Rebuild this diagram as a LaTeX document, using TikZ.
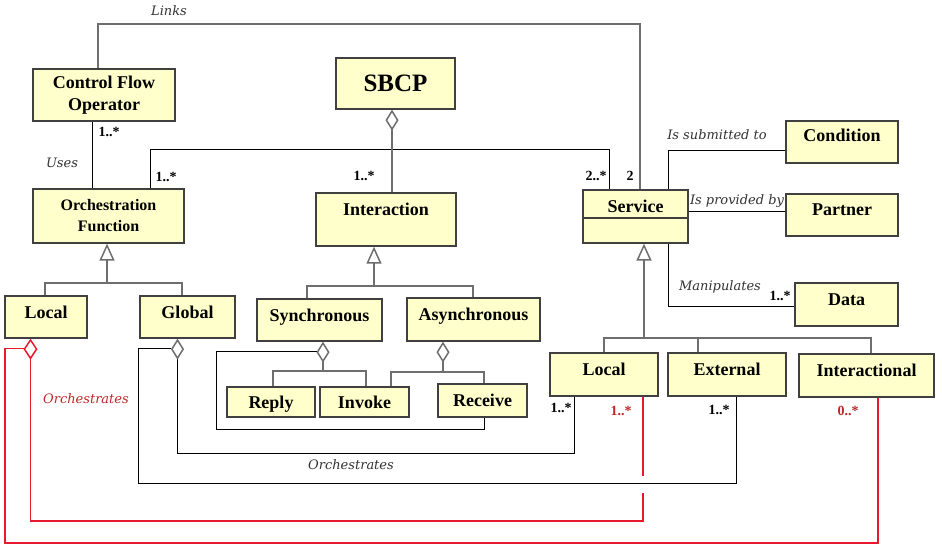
\documentclass[tikz,border=0pt]{standalone}
\usepackage{fontspec}
\setmainfont{Liberation Serif}
\newfontfamily\lblfont{DejaVu Serif}
\usetikzlibrary{arrows.meta}
\definecolor{boxfill}{RGB}{255,255,204}
\definecolor{boxdraw}{RGB}{64,64,64}
\definecolor{lgray}{RGB}{110,110,110}
\definecolor{ored}{RGB}{230,25,45}
\definecolor{tred}{RGB}{190,40,40}
\definecolor{ltext}{RGB}{50,50,50}
\begin{document}
\begin{tikzpicture}[x=1pt,y=-1pt,
  cls/.style={draw=boxdraw, fill=boxfill, line width=1.3pt, inner sep=0pt, align=center,
    font=\bfseries\fontsize{18}{22}\selectfont},
  one/.style={text height=12pt, text depth=#1},
  gl/.style={draw=lgray, line width=1.5pt},
  bl/.style={draw=black, line width=1pt},
  rl/.style={draw=ored, line width=1.5pt},
  tri/.style={{Triangle[open, length=17pt, width=15pt, color=lgray]}-},
  agg/.style={{Diamond[open, length=21pt, width=13pt, color=lgray, line width=1.5pt]}-},
  ragg/.style={{Diamond[open, length=21pt, width=14pt, color=ored]}-},
  mult/.style={font=\bfseries\fontsize{14}{16}\selectfont, inner sep=0pt},
  lab/.style={font=\lblfont\itshape\fontsize{13}{15}\selectfont, text=ltext, inner sep=0pt}]
\fill[white] (0,0) rectangle (942,548);
\useasboundingbox (0,0) rectangle (942,548);

% classes
\node[cls, minimum width=142pt, minimum height=52pt] (cfo) at (104,95) {Control Flow\\Operator};
\node[cls, font=\bfseries\fontsize{16}{21}\selectfont, minimum width=151pt, minimum height=54pt] (of) at (108.5,216) {Orchestration\\Function};
\node[cls, font=\bfseries\fontsize{25}{28}\selectfont, minimum width=119pt, minimum height=51pt] (sbcp) at (395.5,83.5) {SBCP};
\node[cls, one=20pt, minimum width=140pt, minimum height=53pt] (inter) at (386,219.5) {Interaction};
\node[cls, one=20pt, minimum width=105pt, minimum height=53pt] (serv) at (635.5,216.5) {Service};
\node[cls, one=12pt, minimum width=112pt, minimum height=42pt] (cond) at (842,142) {Condition};
\node[cls, one=12pt, minimum width=112pt, minimum height=42pt] (partner) at (842,215) {Partner};
\node[cls, one=10pt, minimum width=103pt, minimum height=43pt] (data) at (846.5,304.5) {Data};
\node[cls, one=10pt, minimum width=82pt, minimum height=42pt] (lloc) at (46,317) {Local};
\node[cls, one=10pt, minimum width=95pt, minimum height=42pt] (glob) at (187.5,317) {Global};
\node[cls, one=10pt, minimum width=125pt, minimum height=42pt] (sync) at (319.5,320) {Synchronous};
\node[cls, one=10pt, minimum width=133pt, minimum height=43pt] (async) at (473.5,319.5) {Asynchronous};
\node[cls, one=0pt, minimum width=88pt, minimum height=30pt] (reply) at (271,402) {Reply};
\node[cls, one=0pt, minimum width=89pt, minimum height=30pt] (invoke) at (364.5,402) {Invoke};
\node[cls, one=0pt, minimum width=89pt, minimum height=33pt] (receive) at (482.5,400.5) {Receive};
\node[cls, one=10pt, minimum width=108pt, minimum height=43pt] (sloc) at (604,374.5) {Local};
\node[cls, one=10pt, minimum width=118pt, minimum height=43pt] (ext) at (727,374.5) {External};
\node[cls, one=10pt, minimum width=135pt, minimum height=43pt] (intl) at (866.5,375.5) {Interactional};
\coordinate (sep) at (0,218);
\draw[draw=boxdraw, line width=1.3pt] (serv.west |- sep) -- (serv.east |- sep);

% Links
\coordinate (lk1) at (98,24); \coordinate (lk2) at (640,24);
\draw[gl] (cfo.north -| lk1) -- (lk1) -- (lk2) -- (serv.north -| lk2);
\node[lab] (tlinks) at (169,11) {Links};

% Uses
\coordinate (us) at (92,0);
\draw[bl] (cfo.south -| us) -- (of.north -| us);
\node[mult] (m1) at (109,132) {1..*};
\node[lab] (tuses) at (62,163) {Uses};

% OF - Service
\coordinate (os1) at (150,150); \coordinate (os2) at (609,150);
\draw[bl] (of.north -| os1) -- (os1) -- (os2) -- (serv.north -| os2);
\node[mult] (m2) at (166,177) {1..*};
\node[mult] (m3) at (596,176) {2..*};
\node[mult] (m4) at (630,176) {2};

% SBCP - Interaction
\coordinate (si) at (392,0);
\draw[gl, agg] (sbcp.south -| si) -- (inter.north -| si);
\node[mult] (m5) at (364,176) {1..*};

% Service associations
\coordinate (sc) at (668,151);
\draw[bl] (serv.north -| sc) -- (sc) -- (cond.west |- sc);
\node[lab] (tsub) at (717,135) {Is submitted to};
\coordinate (sp) at (0,212);
\draw[bl] (serv.east |- sp) -- (partner.west |- sp);
\node[lab] (tprov) at (737,201) {Is provided by};
\coordinate (sd) at (668,306);
\draw[bl] (serv.south -| sd) -- (sd) -- (data.west |- sd);
\node[lab] (tman) at (720,287) {Manipulates};
\node[mult] (m6) at (780,296) {1..*};

% generalizations
\coordinate (g1) at (107,283); \coordinate (g1a) at (45,283); \coordinate (g1b) at (182,283);
\draw[gl, tri] (of.south -| g1) -- (g1);
\draw[gl] (lloc.north -| g1a) -- (g1a) -- (g1b) -- (glob.north -| g1b);
\coordinate (g2) at (374,286); \coordinate (g2a) at (307,286); \coordinate (g2b) at (473,286);
\draw[gl, tri] (inter.south -| g2) -- (g2);
\draw[gl] (sync.north -| g2a) -- (g2a) -- (g2b) -- (async.north -| g2b);
\coordinate (g3) at (644,338); \coordinate (g3a) at (604,338); \coordinate (g3b) at (698,338); \coordinate (g3c) at (871,338);
\draw[gl, tri] (serv.south -| g3) -- (g3);
\draw[gl] (sloc.north -| g3a) -- (g3a) -- (g3c) -- (intl.north -| g3c);
\draw[gl] (g3b) -- (ext.north -| g3b);

% Synchronous aggregation
\coordinate (sa) at (323,371); \coordinate (sa1) at (273,371); \coordinate (sa2) at (366,371);
\draw[gl, agg] (sync.south -| sa) -- (sa);
\draw[gl] (reply.north -| sa1) -- (sa1) -- (sa2) -- (invoke.north -| sa2);
\coordinate (sl1) at (316.5,351.5); \coordinate (sl2) at (216,351.5); \coordinate (sl3) at (216,429); \coordinate (sl4) at (484,429);
\draw[bl] (sl1) -- (sl2) -- (sl3) -- (sl4) -- (receive.south -| sl4);

% Asynchronous aggregation
\coordinate (aa) at (443,372); \coordinate (aa1) at (391,372); \coordinate (aa2) at (484,372);
\draw[gl, agg] (async.south -| aa) -- (aa);
\draw[gl] (invoke.north -| aa1) -- (aa1) -- (aa2) -- (receive.north -| aa2);

% Global orchestrates
\coordinate (ga) at (177.5,453); \coordinate (ga2) at (574,453);
\draw[bl, agg] (glob.south -| ga) -- (ga) -- (ga2) -- (sloc.south -| ga2);
\coordinate (gb1) at (171,348.5); \coordinate (gb2) at (138,348.5); \coordinate (gb3) at (138,483); \coordinate (gb4) at (736,483);
\draw[bl] (gb1) -- (gb2) -- (gb3) -- (gb4) -- (ext.south -| gb4);
\node[lab] (torch) at (351,465) {Orchestrates};
\node[mult] (m7) at (561,408) {1..*};
\node[mult] (m8) at (719,410) {1..*};

% Local orchestrates (red)
\coordinate (ra) at (30.5,521); \coordinate (ra2) at (643,521); \coordinate (ra3) at (643,493); \coordinate (ra4) at (643,476);
\draw[rl, ragg] (lloc.south -| ra) -- (ra) -- (ra2) -- (ra3);
\draw[rl] (sloc.south -| ra4) -- (ra4);
\coordinate (rb1) at (24,348.5); \coordinate (rb2) at (5,348.5); \coordinate (rb3) at (5,543); \coordinate (rb4) at (878,543);
\draw[rl] (rb1) -- (rb2) -- (rb3) -- (rb4) -- (intl.south -| rb4);
\node[lab, text=tred] (trorch) at (86,399) {Orchestrates};
\node[mult, text=tred] (m9) at (621,411) {1..*};
\node[mult, text=tred] (m10) at (848,411) {0..*};
\end{tikzpicture}
\end{document}
